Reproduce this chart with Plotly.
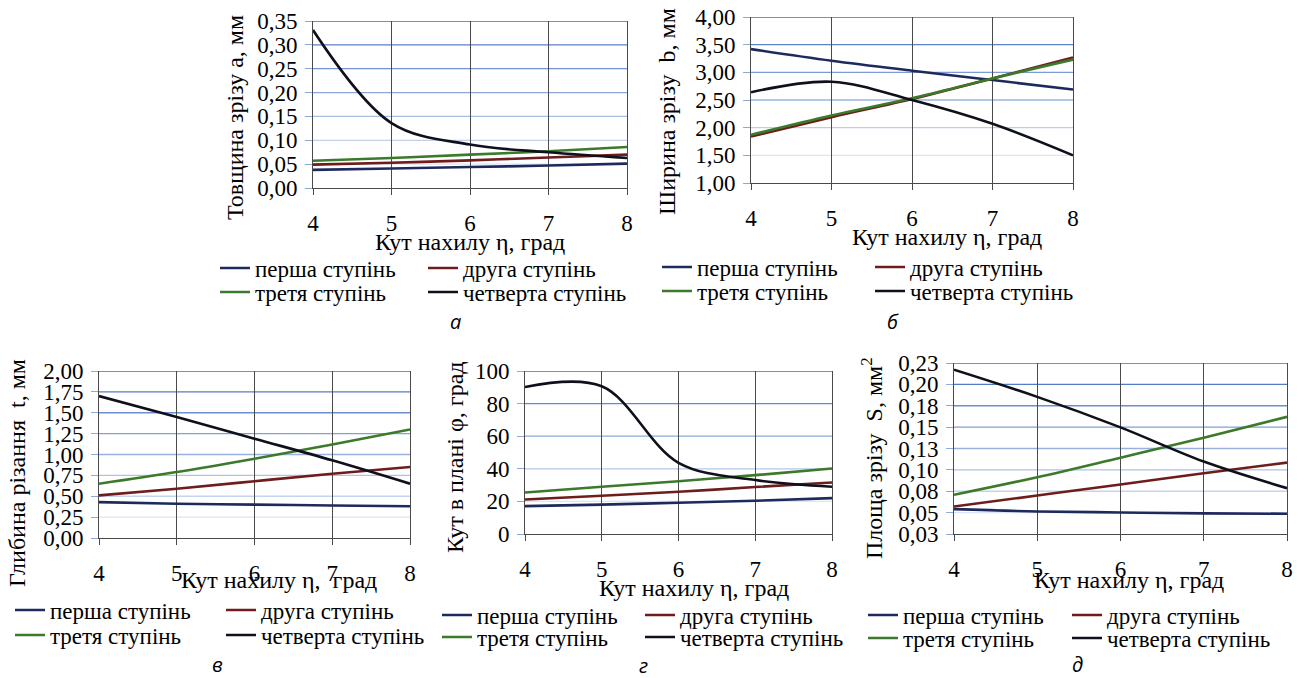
import plotly.graph_objects as go

# ---------------- data ----------------
eta = [4, 5, 6, 7, 8]
series_names = ["перша ступінь", "друга ступінь", "третя ступінь", "четверта ступінь"]

a_first = [0.038, 0.041, 0.044, 0.047, 0.051]
a_second = [0.049, 0.053, 0.058, 0.064, 0.070]
a_third = [0.057, 0.063, 0.070, 0.077, 0.086]
a_fourth = [0.331, 0.136, 0.091, 0.075, 0.063]

b_first = [3.42, 3.21, 3.03, 2.86, 2.69]
b_second = [1.84, 2.19, 2.52, 2.89, 3.27]
b_third = [1.87, 2.22, 2.53, 2.89, 3.23]
b_fourth = [2.64, 2.83, 2.50, 2.07, 1.50]

t_first = [0.43, 0.41, 0.40, 0.39, 0.38]
t_second = [0.51, 0.59, 0.68, 0.77, 0.85]
t_third = [0.65, 0.79, 0.95, 1.12, 1.30]
t_fourth = [1.70, 1.45, 1.19, 0.93, 0.65]

phi_first = [17.1, 18.0, 19.2, 20.4, 22.0]
phi_second = [21.2, 23.5, 25.9, 28.8, 31.6]
phi_third = [25.5, 29.0, 32.4, 36.1, 40.2]
phi_fourth = [90.2, 90.6, 43.7, 33.1, 29.0]

S_first = [0.0541, 0.0514, 0.0502, 0.0491, 0.0487]
S_second = [0.0572, 0.0700, 0.0829, 0.0961, 0.1085]
S_third = [0.0708, 0.0914, 0.1143, 0.1376, 0.1620]
S_fourth = [0.2172, 0.1854, 0.1497, 0.1097, 0.0786]

a_ticks = [0, 0.05, 0.10, 0.15, 0.20, 0.25, 0.30, 0.35]
a_ticktext = ["0,00", "0,05", "0,10", "0,15", "0,20", "0,25", "0,30", "0,35"]
b_ticks = [1.0, 1.5, 2.0, 2.5, 3.0, 3.5, 4.0]
b_ticktext = ["1,00", "1,50", "2,00", "2,50", "3,00", "3,50", "4,00"]
t_ticks = [0, 0.25, 0.5, 0.75, 1.0, 1.25, 1.5, 1.75, 2.0]
t_ticktext = ["0,00", "0,25", "0,50", "0,75", "1,00", "1,25", "1,50", "1,75", "2,00"]
phi_ticks = [0, 20, 40, 60, 80, 100]
phi_ticktext = ["0", "20", "40", "60", "80", "100"]
S_ticks = [0.025, 0.05, 0.075, 0.10, 0.125, 0.15, 0.175, 0.20, 0.225]
S_ticktext = ["0,03", "0,05", "0,08", "0,10", "0,13", "0,15", "0,18", "0,20", "0,23"]

x_titles = ["Кут нахилу η, град", "Кут нахилу η, град", "Кут нахилу η,  град",
            "Кут нахилу η, град", "Кут нахилу η, град"]
y_titles = ["Товщина зрізу а, мм", "Ширина зрізу  b, мм", "Глибина різання  t, мм",
            "Кут в плані φ, град", "Площа зрізу  S, мм<sup>2</sup>"]
captions = ["а", "б", "в", "г", "д"]

# ---------------- layout geometry (pixels) ----------------
W, H = 1304, 678
SERIF = "Liberation Serif, Times New Roman, serif"
colors = ["#1f2a5c", "#6e1c1c", "#3b7a2a", "#10101c"]

panels = [
    dict(series=[a_first, a_second, a_third, a_fourth], ticks=a_ticks, ticktext=a_ticktext,
         box=(313, 627, 21, 188), xt=(470, 242), yt=(235, 117), cap=(455, 322),
         leg_x=(220, 428), leg_y=(268, 292)),
    dict(series=[b_first, b_second, b_third, b_fourth], ticks=b_ticks, ticktext=b_ticktext,
         box=(751, 1073, 17, 183), xt=(947, 237), yt=(667, 112), cap=(893, 322),
         leg_x=(662, 875), leg_y=(267, 291)),
    dict(series=[t_first, t_second, t_third, t_fourth], ticks=t_ticks, ticktext=t_ticktext,
         box=(99, 410, 371, 538), xt=(279, 580), yt=(17, 473), cap=(217, 664),
         leg_x=(15, 226), leg_y=(610, 635)),
    dict(series=[phi_first, phi_second, phi_third, phi_fourth], ticks=phi_ticks, ticktext=phi_ticktext,
         box=(525, 832, 371, 534), xt=(694, 588), yt=(455, 457), cap=(643, 665),
         leg_x=(442, 645), leg_y=(615, 637)),
    dict(series=[S_first, S_second, S_third, S_fourth], ticks=S_ticks, ticktext=S_ticktext,
         box=(954, 1287, 363, 534), xt=(1129, 580), yt=(872, 458), cap=(1077, 664),
         leg_x=(868, 1072), leg_y=(615, 638)),
]


def hex_mix(c1, c2, f):
    a = [int(c1[i:i + 2], 16) for i in (1, 3, 5)]
    b = [int(c2[i:i + 2], 16) for i in (1, 3, 5)]
    return "#" + "".join(f"{round(a[k] + (b[k] - a[k]) * f):02x}" for k in range(3))


fig = go.Figure()
layout = dict(template="none", width=W, height=H, margin=dict(l=0, r=0, t=0, b=0, autoexpand=False),
              paper_bgcolor="white", plot_bgcolor="white", showlegend=True,
              font=dict(family=SERIF, size=23, color="black"))
annotations = []
shapes = []
legend_idx = 0

for p_i, p in enumerate(panels):
    n = p_i + 1
    xa = "xaxis" if n == 1 else f"xaxis{n}"
    ya = "yaxis" if n == 1 else f"yaxis{n}"
    xr = "x" if n == 1 else f"x{n}"
    yr = "y" if n == 1 else f"y{n}"
    x0, x1, y0, y1 = p["box"]
    layout[xa] = dict(domain=[x0 / W, x1 / W], anchor=yr, range=[4, 8], automargin=False,
                      tickvals=eta, ticktext=[str(v) for v in eta],
                      showgrid=True, gridcolor="#4a4a4a", gridwidth=1,
                      showline=True, linecolor="#4a4a4a", linewidth=1,
                      ticks="outside", ticklen=6, tickcolor="#4a4a4a",
                      ticklabelstandoff=8, zeroline=False, fixedrange=True,
                      tickfont=dict(family=SERIF, size=23, color="black"))
    layout[ya] = dict(domain=[1 - y1 / H, 1 - y0 / H], anchor=xr, automargin=False,
                      range=[p["ticks"][0], p["ticks"][-1]],
                      tickvals=p["ticks"], ticktext=p["ticktext"],
                      showgrid=False, zeroline=False,
                      showline=True, mirror=True, linecolor="#4a4a4a", linewidth=1,
                      ticks="outside", ticklen=7, tickcolor="#8ea9d8",
                      ticklabelstandoff=3, fixedrange=True,
                      tickfont=dict(family=SERIF, size=23, color="black"))
    # horizontal gridlines (blue, fading downward)
    nt = len(p["ticks"])
    for k, tv in enumerate(p["ticks"][1:], start=1):
        f = (nt - 1 - k) / max(nt - 2, 1)
        shapes.append(dict(type="line", xref=f"{xr} domain", yref=yr, x0=0, x1=1, y0=tv, y1=tv,
                           line=dict(color=hex_mix("#3e6cc0", "#dbe5f5", f), width=1.3),
                           layer="below"))
    for s_i, (vals, name) in enumerate(zip(p["series"], series_names)):
        row = 0 if s_i in (0, 1) else 1
        col = 0 if s_i in (0, 2) else 1
        legend_idx += 1
        lname = "legend" if legend_idx == 1 else f"legend{legend_idx}"
        layout[lname] = dict(x=(p["leg_x"][col] - 5) / W, y=1 - p["leg_y"][row] / H,
                             xanchor="left", yanchor="middle", orientation="h",
                             bgcolor="rgba(0,0,0,0)", borderwidth=0,
                             font=dict(family=SERIF, size=23, color="black"))
        fig.add_trace(go.Scatter(x=eta, y=vals, mode="lines", name=name,
                                 line=dict(color=colors[s_i], width=2.6, shape="spline", smoothing=1.0),
                                 xaxis=xr, yaxis=yr, legend=lname, hoverinfo="skip"))
    annotations.append(dict(x=p["xt"][0] / W, y=1 - p["xt"][1] / H, xref="paper", yref="paper",
                            text=x_titles[p_i], showarrow=False, xanchor="center", yanchor="middle",
                            font=dict(family=SERIF, size=24, color="black")))
    annotations.append(dict(x=p["yt"][0] / W, y=1 - p["yt"][1] / H, xref="paper", yref="paper",
                            text=y_titles[p_i], showarrow=False, textangle=-90,
                            xanchor="center", yanchor="middle",
                            font=dict(family=SERIF, size=24, color="black")))
    annotations.append(dict(x=p["cap"][0] / W, y=1 - p["cap"][1] / H, xref="paper", yref="paper",
                            text=captions[p_i], showarrow=False, xanchor="center", yanchor="middle",
                            font=dict(family="Open Sans", size=20, color="black", style="italic")))

layout["annotations"] = annotations
layout["shapes"] = shapes
fig.update_layout(**layout)
fig.write_html("out.html", config={"displayModeBar": False},
               post_script="document.body.style.margin='0';")
